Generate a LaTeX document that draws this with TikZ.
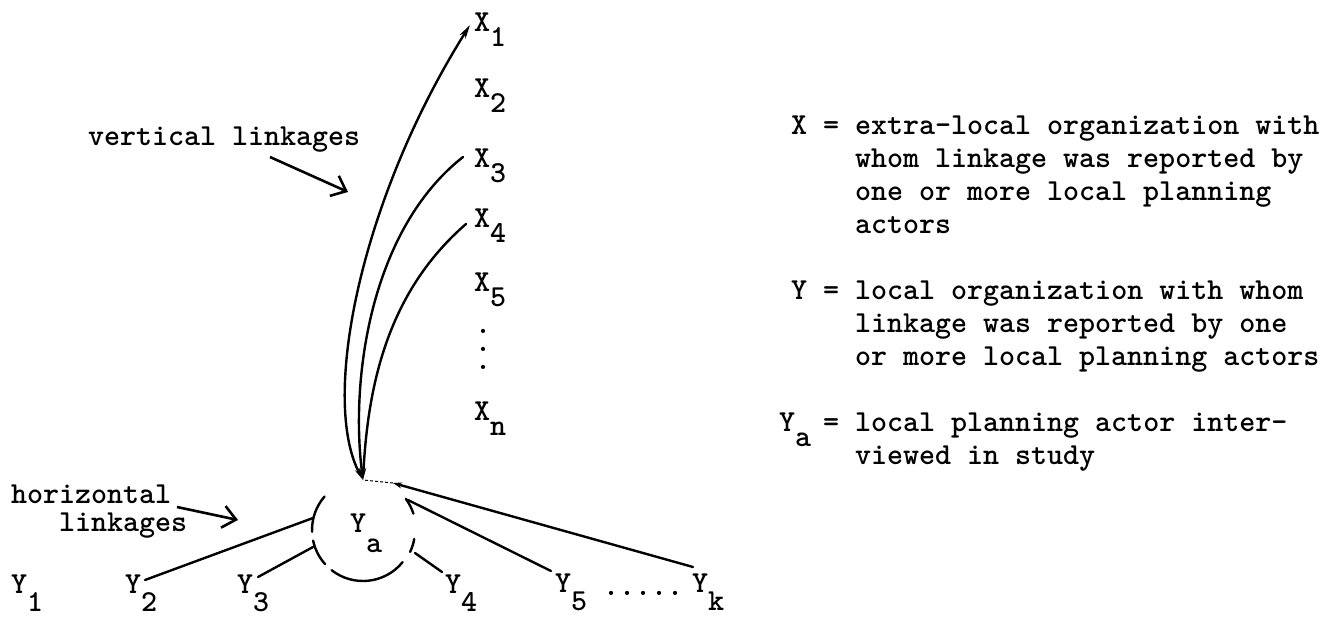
\documentclass[tikz,border=0pt]{standalone}
\usetikzlibrary{arrows.meta,calc}
\newcommand{\lowx}[2]{#1\raisebox{-15pt}{#2}}
\newcommand{\lowy}[2]{#1\raisebox{-18pt}{#2}}
\begin{document}
\begin{tikzpicture}[x=1pt,y=-1pt,
  lab/.style={inner sep=0pt, outer sep=0pt, anchor=base west,
    font=\fontsize{30.5}{33}\selectfont\ttfamily\bfseries},
  link/.style={line width=2.4pt, line cap=round},
  pointer/.style={line width=2.6pt, -{Straight Barb[length=13pt,width=22pt]}},
  tipin/.style={{Stealth[length=12pt,width=5pt]}-},
]
\useasboundingbox (0,0) rectangle (1334,618);

% X column
\node[lab] (X1) at (474,32)  {\lowx{X}{1}};
\node[lab] (X2) at (474,97)  {\lowx{X}{2}};
\node[lab] (X3) at (474,167) {\lowx{X}{3}};
\node[lab] (X4) at (474,227) {\lowx{X}{4}};
\node[lab] (X5) at (474,291) {\lowx{X}{5}};
\node[lab] (vd) at (475,369) {\shortstack{.\\[10.5pt].\\[10.5pt].}};
\node[lab] (Xn) at (474,420) {\lowx{X}{n}};

% Y row
\node[lab] (Ya) at (350,532) {Y\raisebox{-20pt}{a}};
\node[lab] (Y1) at (11,593)  {\lowy{Y}{1}};
\node[lab] (Y2) at (125,593) {\lowy{Y}{2}};
\node[lab] (Y3) at (237,593) {\lowy{Y}{3}};
\node[lab] (Y4) at (445,593) {\lowy{Y}{4}};
\node[lab] (Y5) at (555,592) {\lowy{Y}{5}};
\node[lab] (dots) at (603,595) {.....};
\node[lab] (Yk) at (692,592) {\lowy{Y}{k}};

% captions
\node[lab] (vl) at (88,145) {vertical linkages};
\node[lab] (hl1) at (11,503) {horizontal};
\node[lab] (hl2) at (59,531) {linkages};
\coordinate (vtip) at (348,192);
\coordinate (htip) at (238,520);
\draw[pointer] ([shift={(182,12)}]vl.base west) -- (vtip);
\draw[pointer] ([shift={(118,-24)}]hl2.base west) -- (htip);

% circle around Ya
\coordinate (c) at ([shift={(13,-2)}]Ya.base west);
\coordinate (P) at ([shift={(0,-50)}]c);
\draw[link] ([shift={(139:51pt)}]c) arc[start angle=139,end angle=182,radius=51pt];
\draw[link] ([shift={(192:51pt)}]c) arc[start angle=192,end angle=222,radius=51pt];
\draw[link] ([shift={(232:51pt)}]c) arc[start angle=232,end angle=321,radius=51pt];
\draw[link] ([shift={(335:52pt)}]c) arc[start angle=335,end angle=350,radius=52pt];
\draw[link] ([shift={(18:53pt)}]c) arc[start angle=18,end angle=36,radius=53pt];

% vertical linkages
\draw[link, {Stealth[length=12pt,width=5pt]}-{Stealth[length=14pt,width=7pt]}]
  (P) .. controls (320,400) and (360,200) .. ([shift={(-4,-7)}]X1.base west);
\draw[link, tipin]
  (P) .. controls (350,380) and (370,230) .. ([shift={(-11,-10)}]X3.base west);
\draw[link, tipin]
  (P) .. controls (368,380) and (390,290) .. ([shift={(-8,-3)}]X4.base west);

% horizontal linkages
\draw[link] ([shift={(20,-13)}]Y2.base west) -- ([shift={(-50,-12)}]c);
\draw[link] ([shift={(21,-16)}]Y3.base west) -- ([shift={(-50,17)}]c);
\draw[link] ([shift={(-3,-21)}]Y4.base west) -- ([shift={(52,23)}]c);
\draw[link] ([shift={(-4,-21)}]Y5.base west) -- ([shift={(45,-30)}]c);
\coordinate (km) at ([shift={(30,-47)}]c);
\draw[link, -{Stealth[length=9pt,width=6pt]}] ([shift={(1,-25)}]Yk.base west) -- (km);
\draw[line width=1pt, densely dashed] (km) -- (P);

% legend
\node[lab] (lx1) at (791,134) {X = extra-local organization with};
\node[lab] (lx2) at (855,167) {whom linkage was reported by};
\node[lab] (lx3) at (855,200) {one or more local planning};
\node[lab] (lx4) at (855,233) {actors};
\node[lab] (ly1) at (791,299) {Y = local organization with whom};
\node[lab] (ly2) at (855,332) {linkage was reported by one};
\node[lab] (ly3) at (855,365) {or more local planning actors};
\node[lab] (lya) at (779,431) {Y\raisebox{-15pt}{a}};
\node[lab] (lya1) at (823,431) {= local planning actor inter-};
\node[lab] (lya2) at (855,464) {viewed in study};
\end{tikzpicture}
\end{document}
